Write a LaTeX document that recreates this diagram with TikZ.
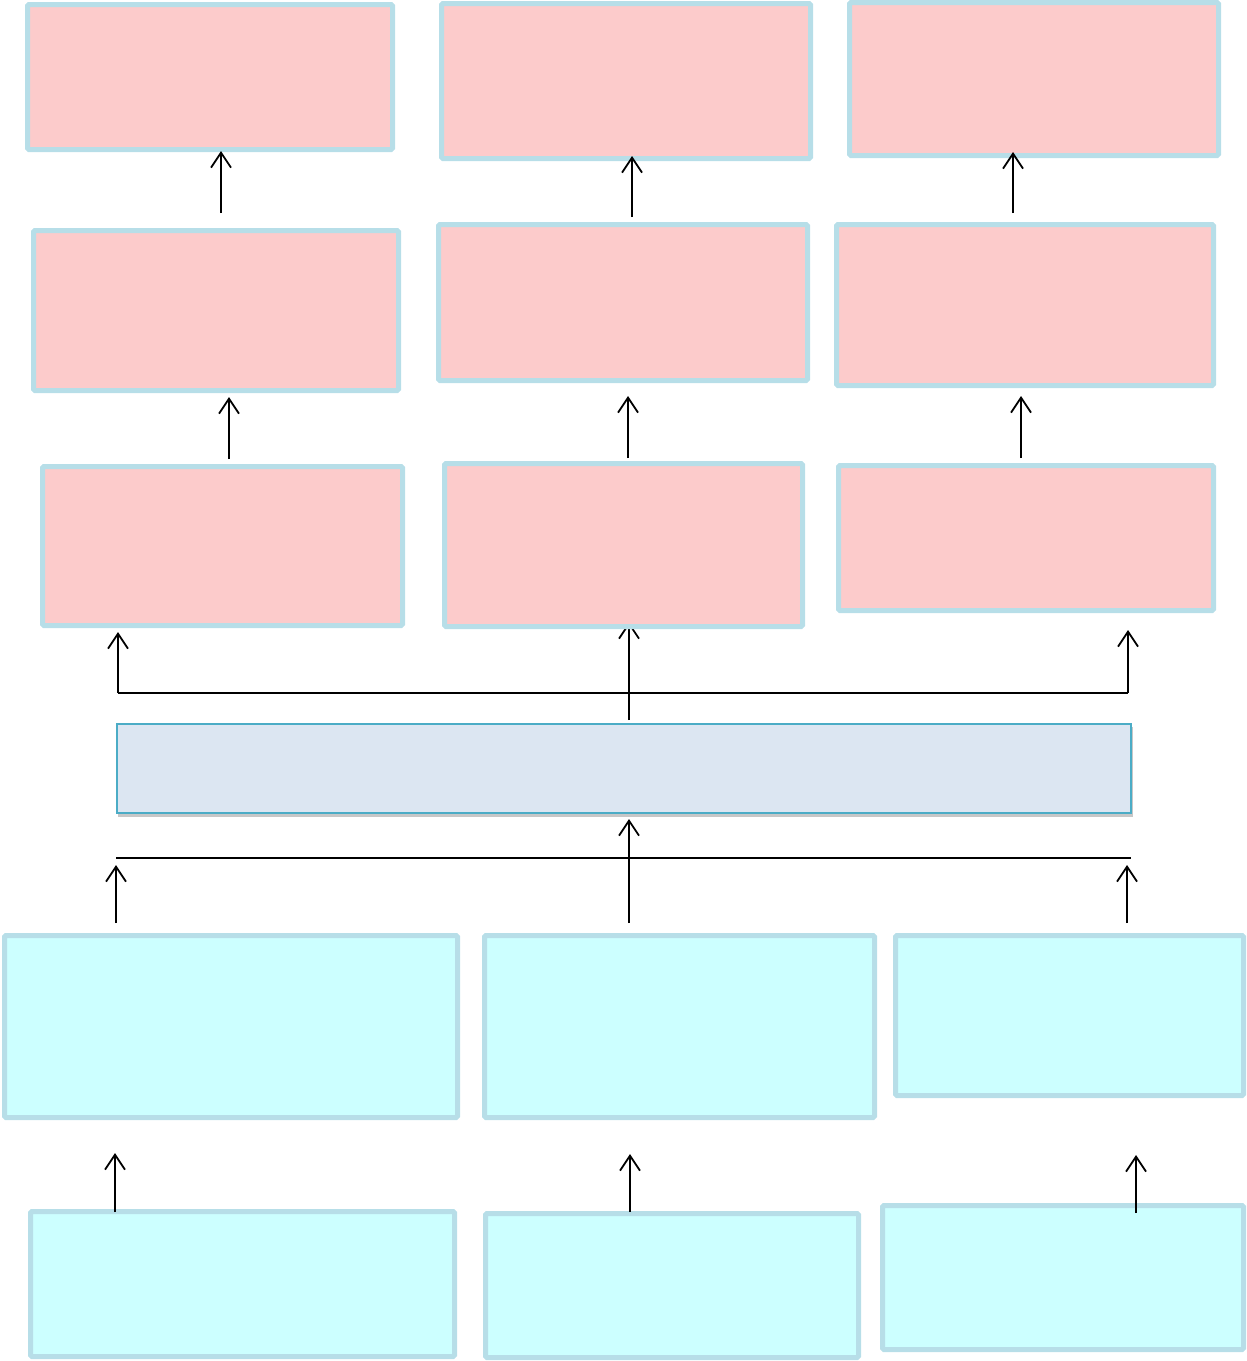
\documentclass[tikz,border=0pt]{standalone}
\usetikzlibrary{arrows.meta}
\pgfdeclarelayer{bg}
\pgfsetlayers{bg,main}
\definecolor{pinkfill}{HTML}{FCCBCB}
\definecolor{cyanfill}{HTML}{CCFFFF}
\definecolor{boxedge}{HTML}{B7DEE8}
\definecolor{midfill}{HTML}{DCE6F2}
\definecolor{midedge}{HTML}{4BACC6}
\tikzset{
  basebox/.style={draw=boxedge, line width=5pt, rounded corners=1.5pt, inner sep=0pt, outer sep=0pt},
  pinkbox/.style={basebox, fill=pinkfill},
  cyanbox/.style={basebox, fill=cyanfill},
  midbox/.style={draw=midedge, fill=midfill, line width=2pt, inner sep=0pt, outer sep=0pt},
  shadowfill/.style={fill=black, opacity=0.22},
  arr/.style={line width=1.8pt, -{Straight Barb[length=15pt,width=20pt,line width=1.8pt]}},
  plain/.style={line width=1.8pt}
}
\newcommand\bx[6]{\node[#1, minimum width={(#4-#2-5)*1pt}, minimum height={(#5-#3-5)*1pt}] (#6) at ({(#2+#4)/2},{(#3+#5)/2}) {};}
\begin{document}
\begin{tikzpicture}[x=1pt,y=-1pt]
\useasboundingbox (0,0) rectangle (1247,1361);
% pink boxes
\bx{pinkbox}{25}{2}{395}{152}{a1}
\bx{pinkbox}{439}{1}{813}{161}{a2}
\bx{pinkbox}{847}{0}{1221}{158}{a3}
\bx{pinkbox}{31}{228}{401}{393}{b1}
\bx{pinkbox}{436}{222}{810}{383}{b2}
\bx{pinkbox}{834}{222}{1216}{388}{b3}
\bx{pinkbox}{40}{464}{405}{628}{c1}
\bx{pinkbox}{442}{461}{805}{629}{c2}
\bx{pinkbox}{836}{463}{1216}{613}{c3}
% middle box
\node[midbox, minimum width=1014pt, minimum height=89pt] (m) at (623.5,768) {};
% cyan boxes
\bx{cyanbox}{2}{933}{460}{1120}{d1}
\bx{cyanbox}{482}{933}{877}{1120}{d2}
\bx{cyanbox}{893}{933}{1246}{1098}{d3}
\bx{cyanbox}{28}{1209}{457}{1359}{e1}
\bx{cyanbox}{483}{1211}{861}{1360}{e2}
\bx{cyanbox}{880}{1203}{1246}{1352}{e3}
% connector coordinates
\coordinate (s1) at (221,213); \coordinate (t1) at (221,151);
\coordinate (s2) at (632,217); \coordinate (t2) at (632,156);
\coordinate (s3) at (1013,213); \coordinate (t3) at (1013,152);
\coordinate (s4) at (229,459); \coordinate (t4) at (229,397);
\coordinate (s5) at (628,458); \coordinate (t5) at (628,396);
\coordinate (s6) at (1021,458); \coordinate (t6) at (1021,396);
\coordinate (hl) at (118,693); \coordinate (hr) at (1128,693);
\coordinate (tl) at (118,632); \coordinate (tr) at (1128,630);
\coordinate (mt) at (629,720); \coordinate (mc) at (629,622);
\coordinate (ll) at (116,858); \coordinate (lr) at (1131,858);
\coordinate (lm) at (629,923); \coordinate (lmt) at (629,819);
\coordinate (la) at (116,923); \coordinate (lat) at (116,865);
\coordinate (lb) at (1127,923); \coordinate (lbt) at (1127,865);
\coordinate (u1) at (115,1212); \coordinate (v1) at (115,1153);
\coordinate (u2) at (630,1212); \coordinate (v2) at (630,1154);
\coordinate (u3) at (1136,1213); \coordinate (v3) at (1136,1155);
\begin{pgfonlayer}{bg}
\fill[shadowfill] ([shift={(1.5,3)}]m.north west) rectangle ([shift={(2.5,4)}]m.south east);
\draw[arr] (mt) -- (mc);
\end{pgfonlayer}
\draw[arr] (s1) -- (t1);
\draw[arr] (s2) -- (t2);
\draw[arr] (s3) -- (t3);
\draw[arr] (s4) -- (t4);
\draw[arr] (s5) -- (t5);
\draw[arr] (s6) -- (t6);
\draw[plain] (hl) -- (hr);
\draw[arr] (hl) -- (tl);
\draw[arr] (hr) -- (tr);
\draw[plain] (ll) -- (lr);
\draw[arr] (lm) -- (lmt);
\draw[arr] (la) -- (lat);
\draw[arr] (lb) -- (lbt);
\draw[arr] (u1) -- (v1);
\draw[arr] (u2) -- (v2);
\draw[arr] (u3) -- (v3);
\end{tikzpicture}
\end{document}
